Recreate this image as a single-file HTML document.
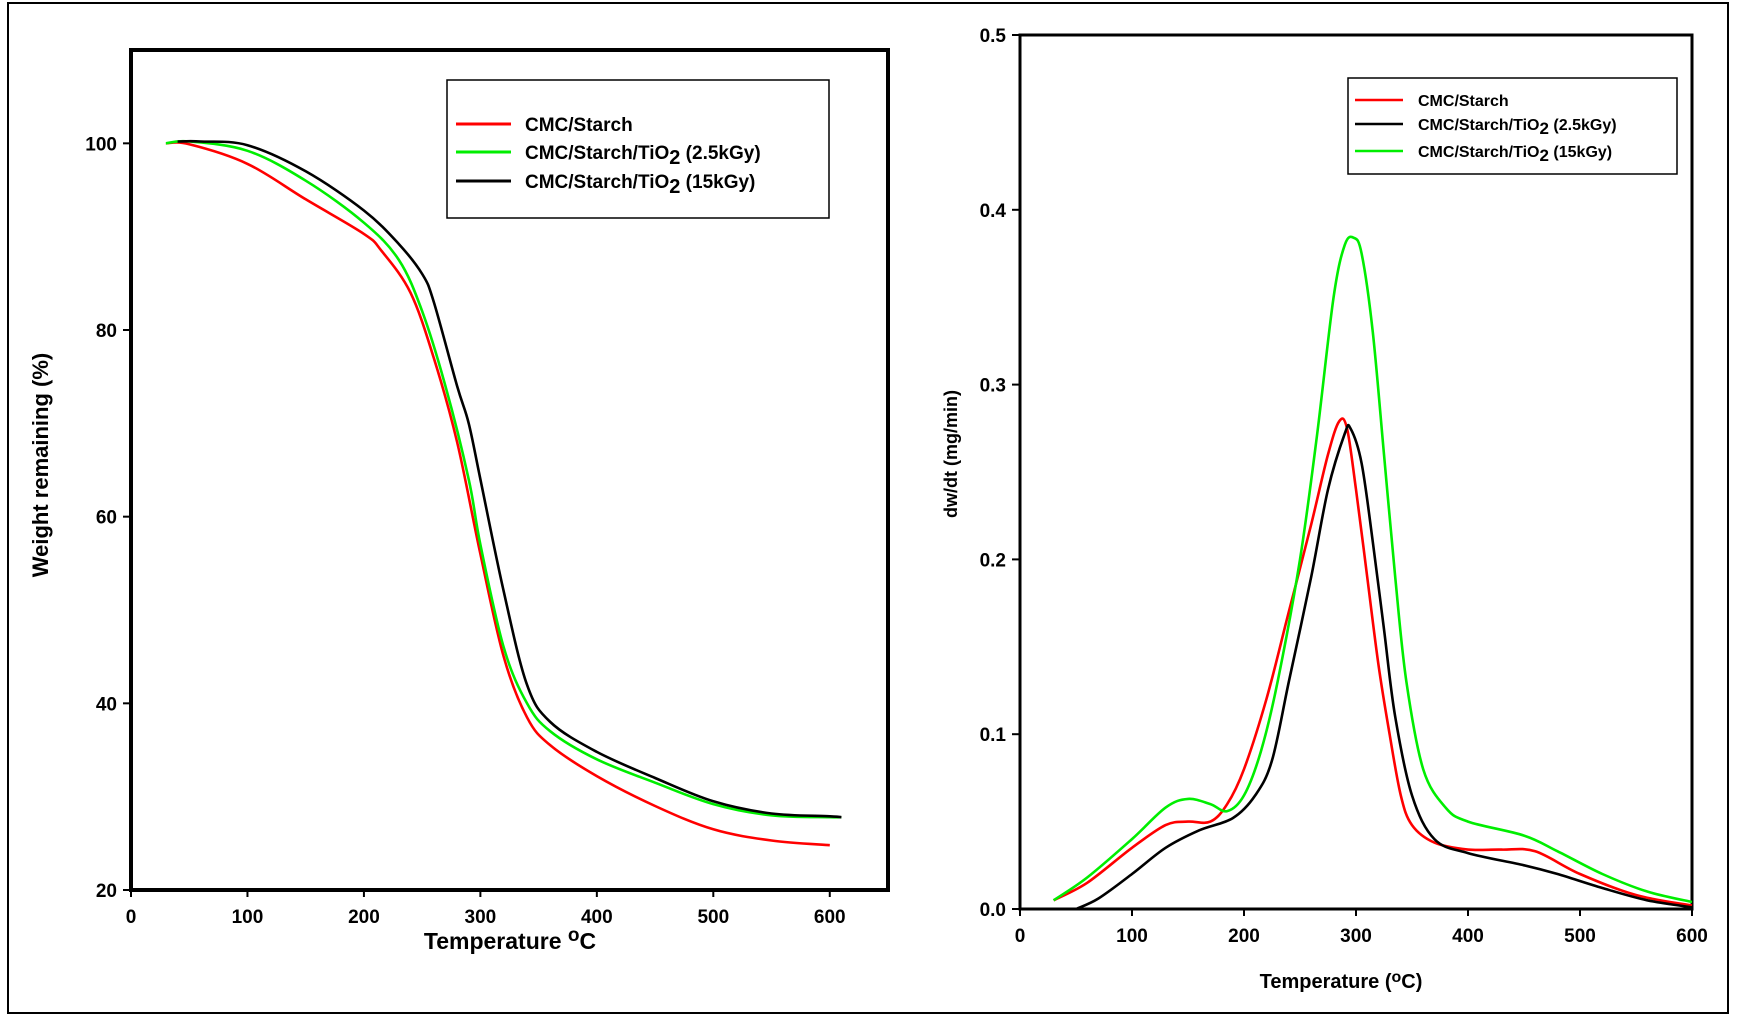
<!DOCTYPE html>
<html><head><meta charset="utf-8"><style>
html,body{margin:0;padding:0;background:#fff;}
svg{display:block;font-family:"Liberation Sans",Arial,sans-serif;font-weight:bold;}
</style></head><body>
<svg id="fig" width="1737" height="1017" viewBox="0 0 1737 1017" xmlns="http://www.w3.org/2000/svg">
<rect x="8" y="3" width="1720" height="1010" fill="#fff" stroke="#000" stroke-width="2"/>
</svg>
<script>
// ---- TGA (left) data ----
const tgaRedT = [30,50,100,150,200,215,240,260,280,300,320,340,360,400,450,500,550,600];
const tgaRedW = [100,99.9,97.8,94,90.3,88.5,84,77,68,56,45,38.5,35.5,32.2,29,26.5,25.3,24.8];
const tgaGreenT = [30,50,100,150,200,230,250,270,290,300,320,340,360,400,450,500,550,600,610];
const tgaGreenW = [100,100.2,99.2,96,91.5,87.5,82,74,64,57,46,40,37,34,31.5,29.2,28,27.8,27.8];
const tgaBlackT = [40,60,100,150,200,230,250,260,280,290,300,320,340,360,400,450,500,550,600,610];
const tgaBlackW = [100.2,100.2,99.8,97,92.8,89.2,86,83,74,70,64,52,42,38,34.8,32,29.5,28.2,27.9,27.8];
const tgaXTicks = [0,100,200,300,400,500,600];
const tgaYTicks = [20,40,60,80,100];
// ---- DTG (right) data ----
const dtgRedT = [30,60,100,130,150,170,185,200,220,240,260,275,285,292,300,310,320,330,340,350,370,400,430,460,500,550,600];
const dtgRedV = [0.005,0.015,0.035,0.048,0.05,0.05,0.06,0.08,0.12,0.17,0.22,0.26,0.279,0.275,0.24,0.19,0.14,0.1,0.065,0.048,0.038,0.034,0.034,0.033,0.02,0.008,0.002];
const dtgBlackT = [50,70,100,130,160,190,210,225,240,260,275,290,295,305,315,325,335,350,370,400,450,480,520,560,600];
const dtgBlackV = [0,0.006,0.02,0.035,0.045,0.052,0.065,0.085,0.13,0.19,0.24,0.272,0.275,0.255,0.21,0.16,0.11,0.065,0.04,0.032,0.025,0.02,0.012,0.005,0.001];
const dtgGreenT = [30,60,100,130,150,170,185,200,215,230,250,265,280,290,298,305,315,325,335,345,360,380,400,450,480,520,560,600];
const dtgGreenV = [0.005,0.018,0.04,0.058,0.063,0.06,0.056,0.065,0.09,0.13,0.2,0.27,0.35,0.38,0.384,0.375,0.33,0.26,0.19,0.13,0.08,0.058,0.05,0.042,0.033,0.02,0.01,0.004];
const dtgXTicks = [0,100,200,300,400,500,600];
const dtgYTicks = [0,0.1,0.2,0.3,0.4,0.5];

const NS="http://www.w3.org/2000/svg";
const svg=document.getElementById('fig');
function mk(tag,attrs,parent){const e=document.createElementNS(NS,tag);for(const k in attrs)e.setAttribute(k,attrs[k]);(parent||svg).appendChild(e);return e;}

const L={x0:131,x1:888,y0:890,y1:50,xmin:0,xmax:650,ymin:20,ymax:110};
const R={x0:1020,x1:1692,y0:909,y1:35,xmin:0,xmax:600,ymin:0,ymax:0.5};
function sx(a,v){return a.x0+(v-a.xmin)/(a.xmax-a.xmin)*(a.x1-a.x0);}
function sy(a,v){return a.y0-(v-a.ymin)/(a.ymax-a.ymin)*(a.y0-a.y1);}

function smoothPath(p){
  let d='M'+p[0][0].toFixed(1)+','+p[0][1].toFixed(1);
  for(let i=0;i<p.length-1;i++){
    const p0=p[Math.max(0,i-1)],p1=p[i],p2=p[i+1],p3=p[Math.min(p.length-1,i+2)];
    const c1x=p1[0]+(p2[0]-p0[0])/6,c1y=p1[1]+(p2[1]-p0[1])/6;
    const c2x=p2[0]-(p3[0]-p1[0])/6,c2y=p2[1]-(p3[1]-p1[1])/6;
    d+=' C'+c1x.toFixed(1)+','+c1y.toFixed(1)+' '+c2x.toFixed(1)+','+c2y.toFixed(1)+' '+p2[0].toFixed(1)+','+p2[1].toFixed(1);
  }
  return d;
}

function series(a,xs,ys,color,name){
  const pts=xs.map((x,i)=>[sx(a,x),sy(a,ys[i])]);
  const p=mk('path',{d:smoothPath(pts),fill:'none',stroke:color,'stroke-width':2.6,'stroke-linejoin':'round'});
  
  
}

function axes(a,xt,yt,fmt,prefix,sw){
  const f=mk('rect',{x:a.x0,y:a.y1,width:a.x1-a.x0,height:a.y0-a.y1,fill:'none',stroke:'#000','stroke-width':sw});
  
  
  xt.forEach(v=>{
    const x=sx(a,v);
    const t=mk('line',{x1:x,y1:a.y0,x2:x,y2:a.y0+7,stroke:'#000','stroke-width':2});
    
    
    const l=mk('text',{x:x,y:a.y0+33,'text-anchor':'middle','font-size':19});
    
    
    l.textContent=v;
  });
  yt.forEach(v=>{
    const y=sy(a,v);
    const t=mk('line',{x1:a.x0-8,y1:y,x2:a.x0,y2:y,stroke:'#000','stroke-width':2});
    
    
    const l=mk('text',{x:a.x0-14,y:y+7,'text-anchor':'end','font-size':19});
    
    
    l.textContent=fmt(v);
  });
}

axes(L,tgaXTicks,tgaYTicks,v=>String(v),'tga',4);
axes(R,dtgXTicks,dtgYTicks,v=>v.toFixed(1),'dtg',3);

series(L,tgaRedT,tgaRedW,'#ff0000','tga-line-cmc-starch');
series(L,tgaGreenT,tgaGreenW,'#00ee00','tga-line-tio2-2-5kgy');
series(L,tgaBlackT,tgaBlackW,'#000000','tga-line-tio2-15kgy');
series(R,dtgRedT,dtgRedV,'#ff0000','dtg-line-cmc-starch');
series(R,dtgBlackT,dtgBlackV,'#000000','dtg-line-tio2-2-5kgy');
series(R,dtgGreenT,dtgGreenV,'#00ee00','dtg-line-tio2-15kgy');
</script>
<svg style="position:absolute;left:0;top:0" width="1737" height="1017">
  <text transform="translate(48,465) rotate(-90)" text-anchor="middle" font-size="22">Weight remaining (%)</text>
  <text x="510" y="949" text-anchor="middle" font-size="23">Temperature <tspan baseline-shift="40%" font-size="19">o</tspan>C</text>
  <text transform="translate(957,454) rotate(-90)" text-anchor="middle" font-size="18">dw/dt (mg/min)</text>
  <text x="1341" y="988" text-anchor="middle" font-size="20">Temperature (<tspan baseline-shift="40%" font-size="16">o</tspan>C)</text>

  <g>
    <rect x="447" y="80" width="382" height="138" fill="#fff" stroke="#000" stroke-width="1.5"/>
    <line x1="456" y1="124" x2="511" y2="124" stroke="#ff0000" stroke-width="3"/>
    <text x="525" y="131" font-size="19">CMC/Starch</text>
    <line x1="456" y1="152" x2="511" y2="152" stroke="#00ee00" stroke-width="3"/>
    <text x="525" y="159" font-size="19">CMC/Starch/TiO<tspan baseline-shift="-25%" font-size="20">2</tspan> (2.5kGy)</text>
    <line x1="456" y1="181" x2="511" y2="181" stroke="#000" stroke-width="3"/>
    <text x="525" y="188" font-size="19">CMC/Starch/TiO<tspan baseline-shift="-25%" font-size="20">2</tspan> (15kGy)</text>
  </g>
  <g>
    <rect x="1348" y="78" width="329" height="96" fill="#fff" stroke="#000" stroke-width="1.5"/>
    <line x1="1355" y1="100" x2="1403" y2="100" stroke="#ff0000" stroke-width="2.5"/>
    <text x="1418" y="106" font-size="16">CMC/Starch</text>
    <line x1="1355" y1="124" x2="1403" y2="124" stroke="#000" stroke-width="2.5"/>
    <text x="1418" y="130" font-size="16">CMC/Starch/TiO<tspan baseline-shift="-25%" font-size="17">2</tspan> (2.5kGy)</text>
    <line x1="1355" y1="151" x2="1403" y2="151" stroke="#00ee00" stroke-width="2.5"/>
    <text x="1418" y="157" font-size="16">CMC/Starch/TiO<tspan baseline-shift="-25%" font-size="17">2</tspan> (15kGy)</text>
  </g>
</svg>
</body></html>
